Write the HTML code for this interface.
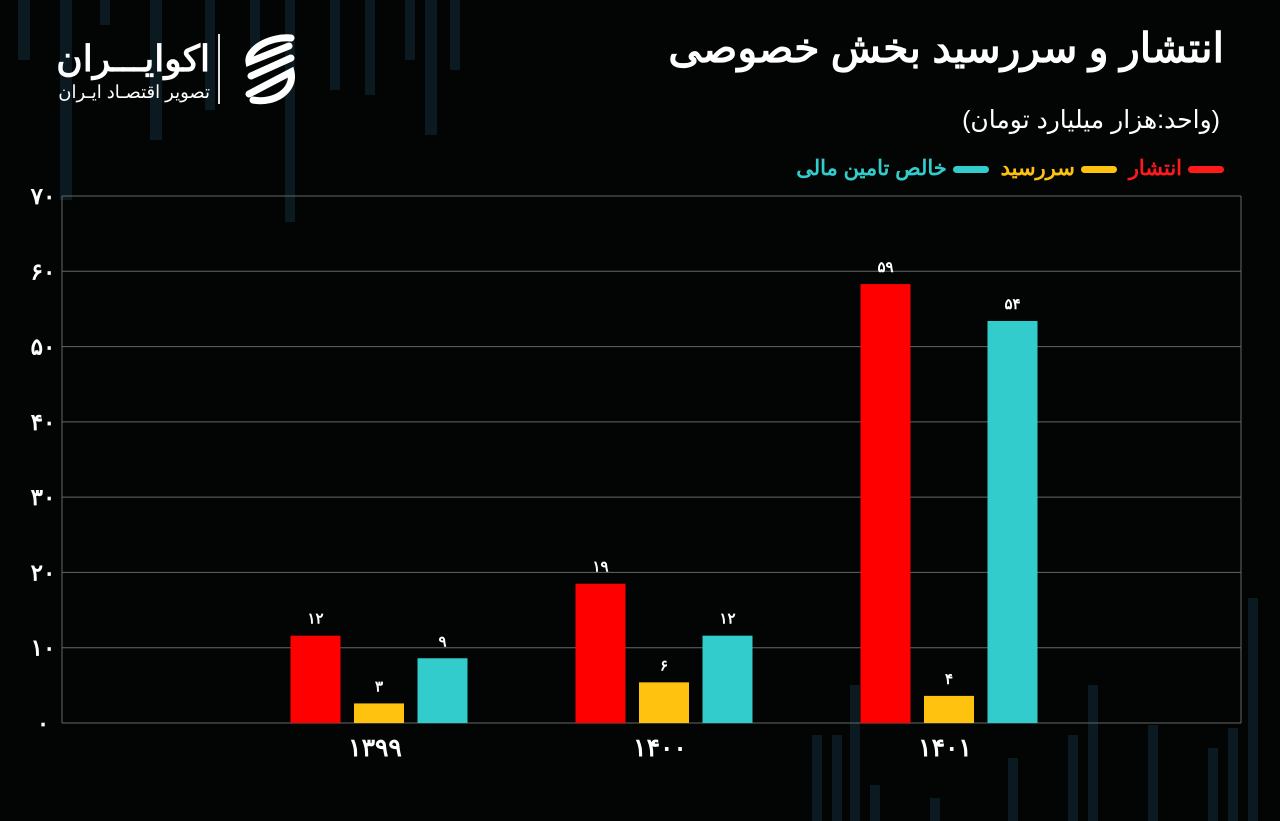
<!DOCTYPE html>
<html><head><meta charset="utf-8">
<style>
html,body{margin:0;padding:0;background:#030505;}
#wrap{position:relative;width:1280px;height:821px;overflow:hidden;background:#030505;font-family:"Liberation Sans","Noto Sans CJK SC",sans-serif;}
.t{position:absolute;color:#fff;direction:rtl;white-space:nowrap;}
</style></head><body>
<div id="wrap">
<svg id="bg" width="1280" height="821" style="position:absolute;left:0;top:0"></svg>
<div class="t" style="right:56px;top:24px;font-size:41px;font-weight:bold;">انتشار و سررسید بخش خصوصی</div>
<div class="t" style="right:60px;top:105px;font-size:25px;">(واحد:هزار میلیارد تومان)</div>
<div class="t" style="right:56px;top:156px;font-size:21px;font-weight:bold;">
<span style="color:#ff1a1a"><span style="display:inline-block;width:36px;height:7px;border-radius:4px;background:#ff1a1a;vertical-align:middle;margin-left:6px"></span>انتشار</span>
<span style="color:#ffc20e;margin-right:6px"><span style="display:inline-block;width:36px;height:7px;border-radius:4px;background:#ffc20e;vertical-align:middle;margin-left:6px"></span>سررسید</span>
<span style="color:#33cccc;margin-right:6px"><span style="display:inline-block;width:36px;height:7px;border-radius:4px;background:#33cccc;vertical-align:middle;margin-left:6px"></span>خالص تامین مالی</span>
</div>
<div>
<div class="t" style="right:1070px;top:38px;font-size:36px;font-weight:bold;">اکوایـــران</div>
<div class="t" style="right:1070px;top:82px;font-size:18px;">تصویر اقتصـاد ایـران</div>
<div style="position:absolute;left:218px;top:34px;width:2px;height:70px;background:#ddd"></div>
<svg style="position:absolute;left:232px;top:32px" width="74" height="74" viewBox="0 0 60 74">
<g fill="none" stroke="#fff" stroke-width="7" stroke-linecap="round">
<path d="M52 6 C30 4 8 18 10 30 L50 14"/><path d="M12 44 L52 26"/><path d="M10 62 L52 40 C56 58 36 72 14 68"/></g></svg>
</div>
<svg id="chart" width="1280" height="821" style="position:absolute;left:0;top:0"></svg>
</div>
<script>
const categories=["۱۳۹۹","۱۴۰۰","۱۴۰۱"];
const issuance=[11.6,18.5,58.3];
const maturity=[2.6,5.4,3.6];
const netFinancing=[8.6,11.6,53.4];
const issuanceLabels=["۱۲","۱۹","۵۹"];
const maturityLabels=["۳","۶","۴"];
const netLabels=["۹","۱۲","۵۴"];
const yTicks=[0,10,20,30,40,50,60,70];
const yTickLabels=["۰","۱۰","۲۰","۳۰","۴۰","۵۰","۶۰","۷۰"];

const NS="http://www.w3.org/2000/svg";
const L=62,R=1241,T=196,B=723,YMAX=70;
const y=v=>B-(v/YMAX)*(B-T);
const gx=i=>379+285*i;
const svg=document.getElementById('chart');
function mk(tag,attrs){const e=document.createElementNS(NS,tag);for(const k in attrs)e.setAttribute(k,attrs[k]);svg.appendChild(e);return e;}

const bg=document.getElementById('bg');
[[18,0,12,60],[60,0,12,200],[100,0,10,25],[150,0,12,140],[205,0,10,110],[250,0,10,50],[285,0,10,222],[330,0,10,90],[365,0,10,95],[405,0,10,60],[425,0,12,135],[450,0,10,70],[850,685,10,136],[1088,685,10,136],[1248,598,10,223],[812,735,10,86],[832,735,10,86],[1228,728,10,93],[1148,725,10,96],[1068,735,10,86],[1008,758,10,63],[1208,748,10,73],[930,798,10,23],[870,785,10,36]].forEach(b=>{
const r=document.createElementNS(NS,'rect');r.setAttribute('x',b[0]);r.setAttribute('y',b[1]);r.setAttribute('width',b[2]);r.setAttribute('height',b[3]);r.setAttribute('fill','#0b1a20');bg.appendChild(r);});

yTicks.forEach((v,i)=>{
 const g=mk('line',{x1:L,x2:R,y1:y(v),y2:y(v),stroke:'#666','stroke-width':1});
 
 
 const t=mk('text',{x:43,y:y(v)+8,'text-anchor':'middle',fill:'#fff','font-size':23,'font-weight':'bold','font-family':'"Liberation Sans","Noto Sans CJK SC",sans-serif'});
 t.textContent=yTickLabels[i];
 
 
});
const ax=mk('line',{x1:L,x2:L,y1:T,y2:B,stroke:'#666','stroke-width':1});


const ax2=mk('line',{x1:R,x2:R,y1:T,y2:B,stroke:'#666','stroke-width':1});



const series=[[issuance,issuanceLabels,'#ff0000','issuance'],[maturity,maturityLabels,'#ffc20e','maturity'],[netFinancing,netLabels,'#33cccc','net-financing']];
const bw=50,step=63.5;
categories.forEach((c,i)=>{
 const cx=gx(i);
 series.forEach((s,j)=>{
  const x=cx+(j-1)*step-bw/2;
  const r=mk('rect',{x:x,y:y(s[0][i]),width:bw,height:B-y(s[0][i]),fill:s[2]});
  
  
  const t=mk('text',{x:x+bw/2,y:y(s[0][i])-12,'text-anchor':'middle',fill:'#fff','font-size':15,'font-weight':'bold','font-family':'"Liberation Sans","Noto Sans CJK SC",sans-serif'});
  t.textContent=s[1][i];
  
  
 });
 const t=mk('text',{x:cx-4,y:B+33,'text-anchor':'middle',fill:'#fff','font-size':25,'font-weight':'bold','font-family':'"Liberation Sans","Noto Sans CJK SC",sans-serif'});
 t.textContent=c;
 
 
});
</script>
</body></html>
